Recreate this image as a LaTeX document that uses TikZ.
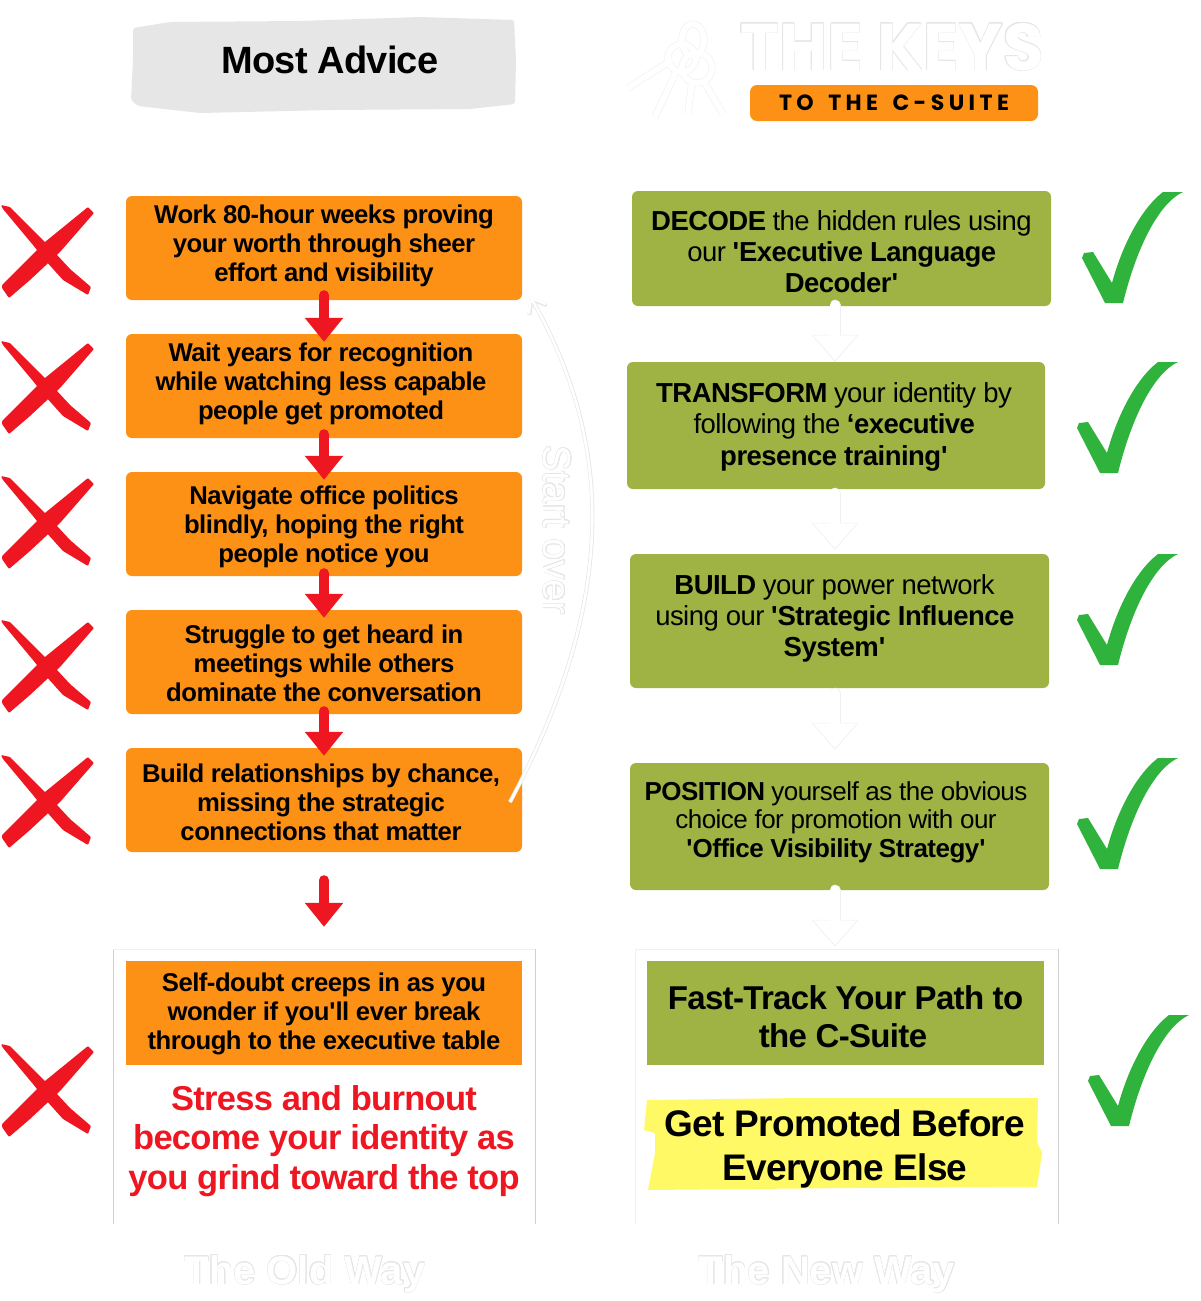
\documentclass[tikz,border=0pt]{standalone}
\usepackage{fontspec}
\usepackage{contour}
\setmainfont[LetterSpace=-2]{Liberation Sans}
\newfontfamily\plainfont{Liberation Sans}
\newfontfamily\keysfont{Poppins}
\newfontfamily\suitefont[LetterSpace=20,WordSpace=1.6]{Poppins}
\usetikzlibrary{arrows.meta}
\definecolor{boxorange}{HTML}{FD9116}
\definecolor{boxgreen}{HTML}{9FB244}
\definecolor{markred}{HTML}{EE1620}
\definecolor{markgreen}{HTML}{2FB33C}
\definecolor{ghostgrey}{HTML}{E6E6E6}
\definecolor{framegrey}{HTML}{D0D0D0}
\definecolor{brushgrey}{HTML}{E6E6E6}
\definecolor{marker}{HTML}{FFF966}
\contourlength{0.5pt}
\newcommand{\ghost}[1]{\textcolor{white}{\contour{ghostgrey}{#1}}}
\newcommand{\liftup}[1]{\rule[-#1pt]{0pt}{1pt}}
\newcommand{\pushdown}[1]{\rule{0pt}{#1pt}}
\newcommand{\sq}{\textquotesingle}
\begin{document}
\begin{tikzpicture}[x=1pt,y=-1pt,
	oldbox/.style={rectangle,rounded corners=6pt,fill=boxorange,minimum width=396pt,minimum height=104pt,inner sep=0pt,align=center,font=\fontsize{25.7}{29}\selectfont\bfseries},
	newbox/.style={rectangle,rounded corners=6pt,fill=boxgreen,minimum width=419pt,inner sep=0pt,align=center,font=\fontsize{27.5}{31}\selectfont},
	redtrans/.style={line width=10pt,line cap=round,markred,-{Triangle[length=24pt,width=37pt]}},
	ghostback/.style={line width=11pt,line cap=round,ghostgrey!60,-{Triangle[length=27pt,width=45pt]}},
	ghostfront/.style={line width=9.6pt,line cap=round,white,-{Triangle[length=25pt,width=42pt]}},
	framed/.style={framegrey,line width=0.6pt},
	crossmark/.pic={
		\fill[markred,rounded corners=1pt] (-44,-47) -- (-35,-45) -- (0,-10) -- (25,17) -- (46,35) -- (43,43) -- (18,28) -- (0,8) -- (-12,-7) -- (-42,-43) -- cycle;
		\fill[markred,rounded corners=1pt] (43,-45) -- (49,-39) -- (15,0) -- (-15,28) -- (-36,46) -- (-43,36) -- (-43,33) -- (0,-10) -- cycle;
	},
	checkmark/.pic={
		\fill[markgreen] (0,0) .. controls (-22,10) and (-45,50) .. (-60,111) -- (-78,111) -- (-101,66) -- (-99,61) -- (-90,60) -- (-71,91) .. controls (-60,50) and (-40,15) .. (-20,0) -- cycle;
	}]
\fill[white] (0,0) rectangle (1200,1301);
\useasboundingbox (0,0) rectangle (1200,1301);
% headers
\fill[brushgrey,rounded corners=2pt] (133,28) -- (170,22) -- (300,21) -- (420,17) -- (514,20) -- (516,60) -- (515,104) -- (470,109) -- (330,110) -- (200,113) -- (138,106) -- (131,100) -- (133,60) -- cycle;
\node(head)  at (330,60) {\fontsize{38}{44}\selectfont\bfseries Most Advice};
\node(keys)  at (892,47) {\keysfont\fontsize{66}{70}\selectfont\bfseries\ghost{THE KEYS}};
\node[rectangle,rounded corners=7pt,fill=boxorange,minimum width=288pt,minimum height=36pt,inner sep=0pt](suite) at (894,103)
	{\suitefont\fontsize{22}{26}\selectfont\bfseries TO THE C-SUITE};
% key bunch
\foreach \w/\c in {7/ghostgrey!60,5.8/white}{
	\draw[line width=\w pt,\c] (693,40) ellipse (11 and 16);
	\draw[line width=\w pt,\c] (672,60) -- (628,88);
	\draw[line width=\w pt,\c] (676,72) -- (655,117);
	\draw[line width=\w pt,\c] (692,80) -- (688,114);
	\draw[line width=\w pt,\c] (703,80) -- (723,114);
	\draw[line width=\w pt,\c] (682,58) circle (14);
	\draw[line width=\w pt,\c] (697,68) circle (15);
}
% old way
\node[oldbox](old1) at (324,248)
	{Work 80-hour weeks proving \\ your worth through sheer \\ effort and visibility\liftup{10}};
\node[oldbox](old2) at (324,386)
	{\hspace*{-6pt}Wait years for recognition \\ \hspace*{-6pt}while watching less capable \\ \hspace*{-6pt}people get promoted\liftup{9}};
\node[oldbox](old3) at (324,524)
	{\pushdown{25}Navigate office politics \\ blindly, hoping the right \\ people notice you};
\node[oldbox](old4) at (324,662)
	{\pushdown{21}Struggle to get heard in \\ meetings while others \\ dominate the conversation};
\node[oldbox](old5) at (324,800)
	{\pushdown{23}\hspace*{-6pt}Build relationships by chance, \\ \hspace*{-6pt}missing the strategic \\ \hspace*{-6pt}connections that matter};
\node[oldbox,rounded corners=0pt](old6) at (324,1013)
	{\pushdown{21}Self-doubt creeps in as you \\ wonder if you\sq ll ever break \\ through to the executive table};
\node[align=center,inner sep=0pt,text=markred,font=\fontsize{34.5}{39.5}\selectfont\bfseries](stress) at (324,1141)
	{Stress and burnout \\ become your identity as \\ you grind toward the top};
\draw[framed] (113,1224) -- (113,949);
\draw[framed] (535,1224) -- (535,949);
\draw[framed,black!6] (113,949) -- (535,949);
\node(oldway) at (305,1274) {\plainfont\fontsize{40}{46}\selectfont\bfseries\ghost{The Old Way}};
% new way
\node[newbox,minimum height=115pt](new1) at (841.5,248.5)
	{\pushdown{26}\textbf{DECODE} the hidden rules using \\ our \textbf{\sq Executive Language} \\ \textbf{Decoder\sq}};
\node[newbox,minimum width=418pt,minimum height=127pt,font=\fontsize{27.5}{31.5}\selectfont](new2) at (836,425.5)
	{\pushdown{22}\hspace*{-4pt}\textbf{TRANSFORM} your identity by \\ \hspace*{-4pt}following the \textbf{‘executive} \\ \hspace*{-4pt}\textbf{presence training\sq}};
\node[newbox,minimum height=134pt](new3) at (839.5,621)
	{\hspace*{-10pt}\textbf{BUILD} your power network \\ \hspace*{-10pt}using our \textbf{\sq Strategic Influence} \\ \hspace*{-10pt}\textbf{System\sq}\liftup{10}};
\node[newbox,minimum height=127pt,font=\fontsize{26}{28.5}\selectfont](new4) at (839.5,826.5)
	{\hspace*{-7pt}\textbf{POSITION} yourself as the obvious \\ \hspace*{-7pt}choice for promotion with our \\ \hspace*{-7pt}\textbf{\sq Office Visibility Strategy\sq}\liftup{14}};
\node[newbox,rounded corners=0pt,minimum width=397pt,minimum height=104pt,font=\fontsize{33}{38}\selectfont\bfseries](new5) at (845.5,1013)
	{\pushdown{32}Fast-Track Your Path to \\ \hspace*{-5pt}the C-Suite};
\fill[marker] (647,1100) -- (800,1098) -- (1038,1098) -- (1037,1142) -- (1042,1153) -- (1037,1187) -- (850,1188) -- (648,1190) -- (655,1153) -- (655,1133) -- (644,1130) -- (646,1110) -- cycle;
\node[align=center,inner sep=0pt,font=\fontsize{37}{44}\selectfont\bfseries](promoted) at (845,1149)
	{Get Promoted Before \\ Everyone Else};
\draw[framed] (1058,1224) -- (1058,949);
\draw[framed,black!6] (635,1224) -- (635,949) -- (1058,949);
\node(newway) at (827,1274) {\plainfont\fontsize{40}{46}\selectfont\bfseries\ghost{The New Way}};
% arrows
\draw[redtrans,shorten <=-5pt,shorten >=-8pt] (old1.south) -- (old2.north);
\draw[redtrans,shorten <=-4pt,shorten >=-8pt] (old2.south) -- (old3.north);
\draw[redtrans,shorten <=-3pt,shorten >=-8pt] (old3.south) -- (old4.north);
\draw[redtrans,shorten <=-3pt,shorten >=-8pt] (old4.south) -- (old5.north);
\draw[redtrans,shorten <=28pt,shorten >=34pt] (old5.south) -- (old6.north);
\coordinate (ax) at (835,0);
\foreach \a/\b/\s/\e in {new1/new2/-1/0,new2/new3/4/4,new3/new4/5/13,new4/new5/0/14}{
	\draw[ghostback,shorten <=\s pt,shorten >=\e pt] (\a.south -| ax) -- (\b.north -| ax);
	\draw[ghostfront,shorten <=\s pt,shorten >=\e pt+1.4pt] (\a.south -| ax) -- (\b.north -| ax);
}
% start over
\coordinate (loopfrom) at (510,802);
\coordinate (loopto) at (530,296);
\draw[ghostgrey,line width=4pt,-{Straight Barb[length=13pt,width=20pt]}] (loopfrom) .. controls (632,574) and (600,420) .. (loopto);
\draw[white,line width=2.6pt,-{Straight Barb[length=13pt,width=20pt]}] (loopfrom) .. controls (632,574) and (600,420) .. (loopto);
\node[rotate=-90](startover) at (557,530) {\plainfont\fontsize{39}{44}\selectfont\ghost{Start over}};
% marks
\foreach \y in {252,388,523,667,802,1091}{
	\pic at (45,\y) {crossmark};
}
\foreach \x/\y in {1183/192,1178/362,1178/554,1178/758,1189/1015}{
	\pic at (\x,\y) {checkmark};
}
\end{tikzpicture}
\end{document}
